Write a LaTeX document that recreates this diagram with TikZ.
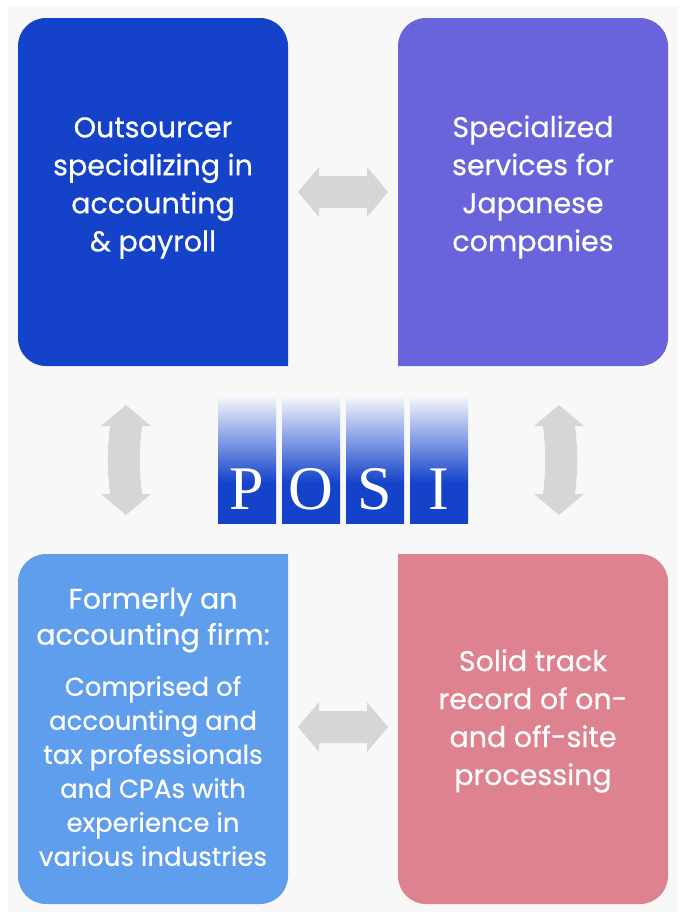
\documentclass[tikz,border=0pt]{standalone}
\usepackage{fontspec}
\setmainfont{Poppins}[FakeBold=0.5]
\newfontfamily\posifont{Liberation Serif}
\usetikzlibrary{positioning}
\definecolor{posiblue}{HTML}{1443CA}
\definecolor{violet}{HTML}{6A64DC}
\definecolor{skyblue}{HTML}{5F9EEC}
\definecolor{rose}{HTML}{DE8290}
\definecolor{bggray}{HTML}{F8F8F8}
\definecolor{arrowgray}{HTML}{D6D6D6}
\pgfdeclareverticalshading{posifade}{100bp}{color(0bp)=(posiblue); color(41bp)=(posiblue); color(75bp)=(posiblue!5); color(100bp)=(posiblue!5)}

\tikzset{
  boxtext/.style={text=white, align=center, inner sep=0pt, font=\fontsize{28.5}{38}\selectfont},
  bodytext/.style={text=white, align=center, inner sep=0pt, font=\fontsize{26}{34}\selectfont},
  posicol/.style={shading=posifade, minimum width=58pt, minimum height=126pt, inner sep=0pt},
  posiletter/.style={text=white, inner sep=0pt, font=\posifont\fontsize{62}{62}\selectfont},
  pics/twoway/.style 2 args={code={
    \fill[arrowgray] (-#1,0) -- (-#1+21,25) -- (-#1+21,16) .. controls (-8,16+#2) and (8,16+#2) .. (#1-21,16)
      -- (#1-21,25) -- (#1,0) -- (#1-21,-25) -- (#1-21,-16) .. controls (8,-16+#2) and (-8,-16+#2) .. (-#1+21,-16)
      -- (-#1+21,-25) -- cycle;}}
}

\begin{document}
\begin{tikzpicture}[x=1pt,y=1pt]
  \fill[white](0,0)rectangle(686,-922);
  \fill[bggray](8,-6)rectangle(678,-912);
  % the four boxes, square corner towards the middle
  \fill[posiblue](153,-366)[sharp corners]--(288,-366)--(288,-192)[rounded corners=28]--(288,-18)--(18,-18)--(18,-366)--cycle;
  \fill[violet](533,-366)[sharp corners]--(398,-366)--(398,-192)[rounded corners=28]--(398,-18)--(668,-18)--(668,-366)--cycle;
  \fill[skyblue](153,-554)[sharp corners]--(288,-554)--(288,-729)[rounded corners=28]--(288,-904)--(18,-904)--(18,-554)--cycle;
  \fill[rose](533,-554)[sharp corners]--(398,-554)--(398,-729)[rounded corners=28]--(398,-904)--(668,-904)--(668,-554)--cycle;
  \node[boxtext](outs)at(153,-188){Outsourcer\\specializing in\\accounting\\\& payroll};
  \node[boxtext](japan)at(533,-187){Specialized\\services for\\Japanese\\companies};
  \node[boxtext,font=\fontsize{28.5}{36}\selectfont](former)at(153,-620){Formerly an\\accounting firm:};
  \node[bodytext](staff)at(153,-771){Comprised of\\accounting and\\tax professionals\\and CPAs with\\experience in\\various industries};
  \node[boxtext](track)at(533,-721){Solid track\\record of on-\\and off-site\\processing};
  % arrows
  \pic at(343,-192){twoway={45}{0}};
  \pic at(343,-727){twoway={45}{0}};
  \pic[rotate=90] at(126,-460){twoway={55}{3}};
  \pic[rotate=90] at(559,-460){twoway={55}{-3}};
  % logo
  \node[posicol](pcol)at(247,-460){};
  \node[posicol](ocol)at(311,-460){};
  \node[posicol](scol)at(375,-460){};
  \node[posicol](icol)at(439,-460){};
  \node[posiletter,anchor=base](p)at([yshift=14]pcol.south){P};
  \node[posiletter,anchor=base](o)at([yshift=14]ocol.south){O};
  \node[posiletter,anchor=base](s)at([yshift=14]scol.south){S};
  \node[posiletter,anchor=base](i)at([yshift=14]icol.south){I};
\end{tikzpicture}
\end{document}
